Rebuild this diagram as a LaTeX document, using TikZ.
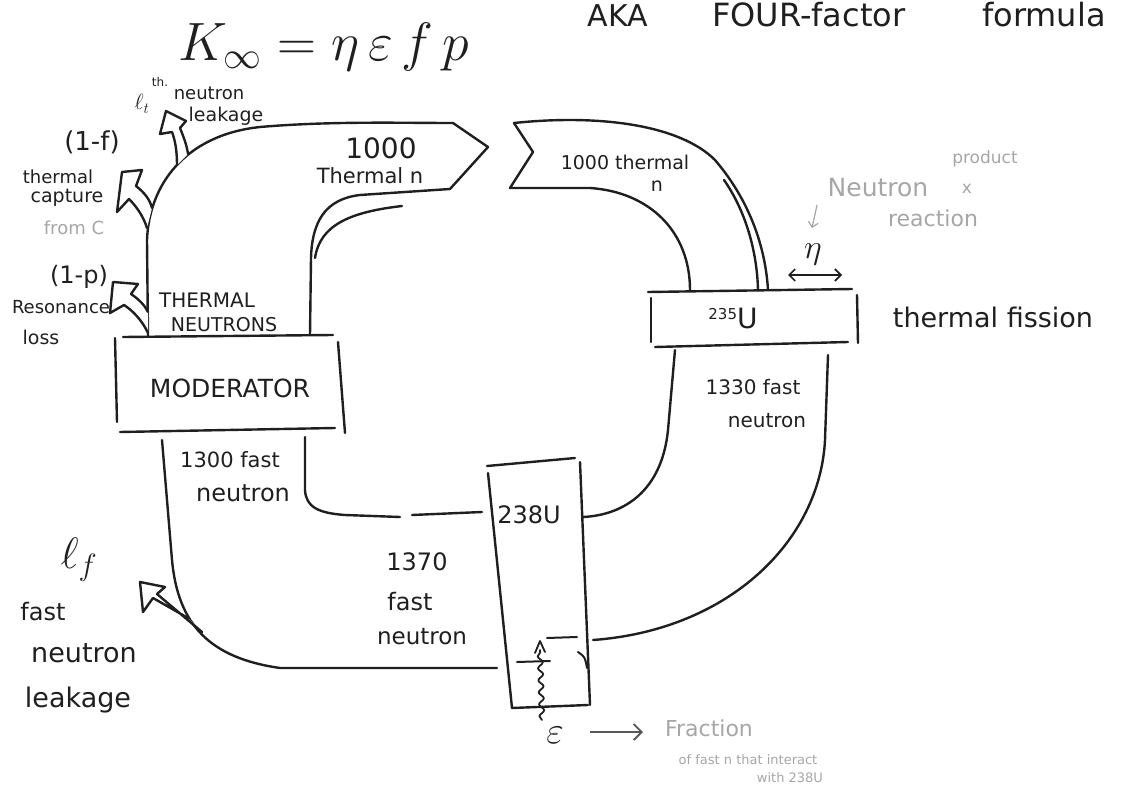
\RequirePackage{fix-cm}
\documentclass[tikz,border=0pt]{standalone}
\usepackage{fontspec}
\setmainfont{DejaVu Sans}
\usetikzlibrary{arrows.meta,decorations.pathmorphing}
\newcommand\fs[1]{\fontsize{#1}{#1}\selectfont}
\colorlet{ink}{black!88}
\colorlet{pencil}{black!35}
\tikzset{
  stroke/.style={draw=ink, line width=2.4pt, line cap=round, line join=round},
  txt/.style={text=ink, inner sep=0pt, align=center},
  faint/.style={text=pencil, inner sep=0pt, align=center},
}
\begin{document}
\begin{tikzpicture}[x=1pt,y=-1pt]
\useasboundingbox (0,0) rectangle (1128,787);

% left column, outer line up to the thermal band
\draw[stroke] (148,337) -- (147,240) .. controls (149,185) and (185,135) .. (260,127)
    .. controls (330,121) and (400,123) .. (453,123) -- (488,147) -- (450,189) -- (360,195)
    .. controls (325,199) and (312,222) .. (311,258) -- (310,335);
\draw[stroke] (402,206) .. controls (350,212) and (320,225) .. (315,258);

% right band, notched tail
\draw[stroke] (690,290) .. controls (690,232) and (650,192) .. (590,188) -- (510,188)
    -- (533,152) -- (514,123) .. controls (600,114) and (680,125) .. (715,160)
    .. controls (745,195) and (765,240) .. (768,290);
\draw[stroke] (724,180) .. controls (745,210) and (757,250) .. (758,290);

% 235U box
\draw[stroke] (648,292) -- (852,289);
\draw[stroke] (857,295) -- (858,343);
\draw[stroke] (655,347) -- (848,342);
\draw[stroke] (651,298) -- (651,342);

% fast neutrons from 235U down to 238U
\draw[stroke] (675,350) -- (668,430) .. controls (662,490) and (625,515) .. (583,517);
\draw[stroke] (828,355) -- (825,440) .. controls (820,540) and (730,630) .. (593,640);

% 238U box
\draw[stroke] (487,466) -- (575,458);
\draw[stroke] (488,473) -- (512,708);
\draw[stroke] (580,462) -- (590,705);
\draw[stroke] (512,708) -- (588,705);
\draw[stroke,line width=2pt] (517,662) -- (550,661);
\draw[stroke,line width=2pt] (547,638) -- (577,637);
\draw[stroke,line width=2pt] (578,652) .. controls (585,657) .. (587,668);
\draw[stroke,line width=1.8pt,decorate,decoration={snake,amplitude=2.5pt,segment length=12pt}] (542,720) -- (540,650);
\draw[stroke,line width=1.8pt] (535,653) -- (540,641) -- (545,652);

% fast neutrons from 238U back to moderator
\draw[stroke] (482,512) -- (412,515);
\draw[stroke] (400,517) -- (345,515) .. controls (318,513) and (306,507) .. (305,490) -- (305,437);
\draw[stroke] (497,668) -- (280,668) .. controls (210,658) and (178,625) .. (172,560) -- (162,440);

% moderator box
\draw[stroke] (123,337) -- (333,335);
\draw[stroke] (115,338) -- (117,422);
\draw[stroke] (120,432) -- (335,428);
\draw[stroke] (338,342) -- (345,433);

% loss arrows
\filldraw[stroke,fill=white] (177,165) .. controls (177,150) and (175,140) .. (172,132) -- (160,134)
    -- (166,111) -- (186,121) -- (180,128) .. controls (184,138) and (187,146) .. (188,154);
\filldraw[stroke,fill=white] (147,228) .. controls (143,215) and (135,205) .. (129,199) -- (117,212)
    -- (122,172) -- (142,170) -- (136,186) .. controls (145,193) and (150,200) .. (152,208);
\filldraw[stroke,fill=white] (148,333) .. controls (142,320) and (132,310) .. (124,305) -- (110,313)
    -- (113,282) -- (138,284) -- (131,294) .. controls (140,300) and (145,306) .. (148,312);
\filldraw[stroke,fill=white] (188,618) -- (153,598) -- (143,612) -- (140,582) -- (165,587)
    -- (157,594) -- (202,632);

% eta arrows
\draw[ink,line width=1.6pt,{Straight Barb[length=6pt]}-{Straight Barb[length=6pt]}] (788,275) -- (842,275);
\draw[pencil,line width=1.2pt,-{Straight Barb[length=5pt]}] (817,205) -- (812,228);
\draw[ink!75,line width=1.8pt,-{Straight Barb[length=8pt]}] (590,732) -- (643,732);

% labels
\node[txt,font=\fs{54},anchor=base] (kinf) at (324,60) {$K_{\infty}=\eta\,\varepsilon\,f\,p$};
\node[txt,font=\fs{30},anchor=base east] (aka) at (648,26) {AKA};
\node[txt,font=\fs{32},anchor=base west] (four) at (712,26) {FOUR-factor};
\node[txt,font=\fs{32},anchor=base west] (formula) at (982,26) {formula};

\node[txt,font=\fs{12}] (th) at (160,82) {th.};
\node[txt,font=\fs{22}] (lt) at (142,104) {$\ell_t$};
\node[txt,font=\fs{18}] (thn) at (209,93) {neutron};
\node[txt,font=\fs{19}] (thl) at (226,116) {leakage};

\node[txt,font=\fs{26}] (onef) at (92,142) {(1-f)};
\node[txt,font=\fs{18}] (cap1) at (58,177) {thermal};
\node[txt,font=\fs{19}] (cap2) at (67,198) {capture};
\node[faint,font=\fs{18}] (cap3) at (74,228) {from C};

\node[txt,font=\fs{24}] (onep) at (79,277) {(1-p)};
\node[txt,font=\fs{18}] (res1) at (61,307) {Resonance};
\node[txt,font=\fs{19}] (res2) at (41,337) {loss};

\node[txt,font=\fs{20}] (therm) at (207,300) {THERMAL};
\node[txt,font=\fs{19}] (neuts) at (224,325) {NEUTRONS};
\node[txt,font=\fs{25}] (mod) at (230,388) {MODERATOR};

\node[txt,font=\fs{28}] (n1000a) at (381,148) {1000};
\node[txt,font=\fs{21}] (therma) at (370,176) {Thermal n};
\node[txt,font=\fs{19}] (n1000b) at (625,162) {1000 thermal};
\node[txt,font=\fs{19}] (nb) at (657,186) {n};

\node[txt,font=\fs{28}] (u235) at (733,318) {\raisebox{9pt}{\fs{15}235}U};
\node[txt,font=\fs{27}] (fiss) at (993,317) {thermal fission};
\node[txt,font=\fs{34}] (eta) at (813,254) {$\eta$};
\node[faint,font=\fs{25}] (prod1) at (878,188) {Neutron};
\node[faint,font=\fs{17}] (prod2) at (985,159) {product};
\node[faint,font=\fs{17}] (prod3) at (967,189) {x};
\node[faint,font=\fs{22}] (prod4) at (933,218) {reaction};

\node[txt,font=\fs{20}] (f1330) at (753,387) {1330 fast};
\node[txt,font=\fs{20}] (f1330n) at (767,421) {neutron};
\node[txt,font=\fs{21}] (f1300) at (230,460) {1300 fast};
\node[txt,font=\fs{24}] (f1300n) at (243,493) {neutron};
\node[txt,font=\fs{24}] (u238) at (529,515) {238U};
\node[txt,font=\fs{24}] (f1370) at (417,562) {1370};
\node[txt,font=\fs{24}] (f1370a) at (410,602) {fast};
\node[txt,font=\fs{23}] (f1370n) at (422,637) {neutron};

\node[txt,font=\fs{44}] (lf) at (79,560) {$\ell_f$};
\node[txt,font=\fs{24}] (fl1) at (43,612) {fast};
\node[txt,font=\fs{27}] (fl2) at (84,653) {neutron};
\node[txt,font=\fs{27}] (fl3) at (78,700) {leakage};

\node[txt,font=\fs{38}] (eps) at (555,735) {$\varepsilon$};
\node[faint,font=\fs{22}] (frac1) at (709,728) {Fraction};
\node[faint,font=\fs{13}] (frac2) at (748,760) {of fast n that interact};
\node[faint,font=\fs{13}] (frac3) at (790,778) {with 238U};
\end{tikzpicture}
\end{document}
